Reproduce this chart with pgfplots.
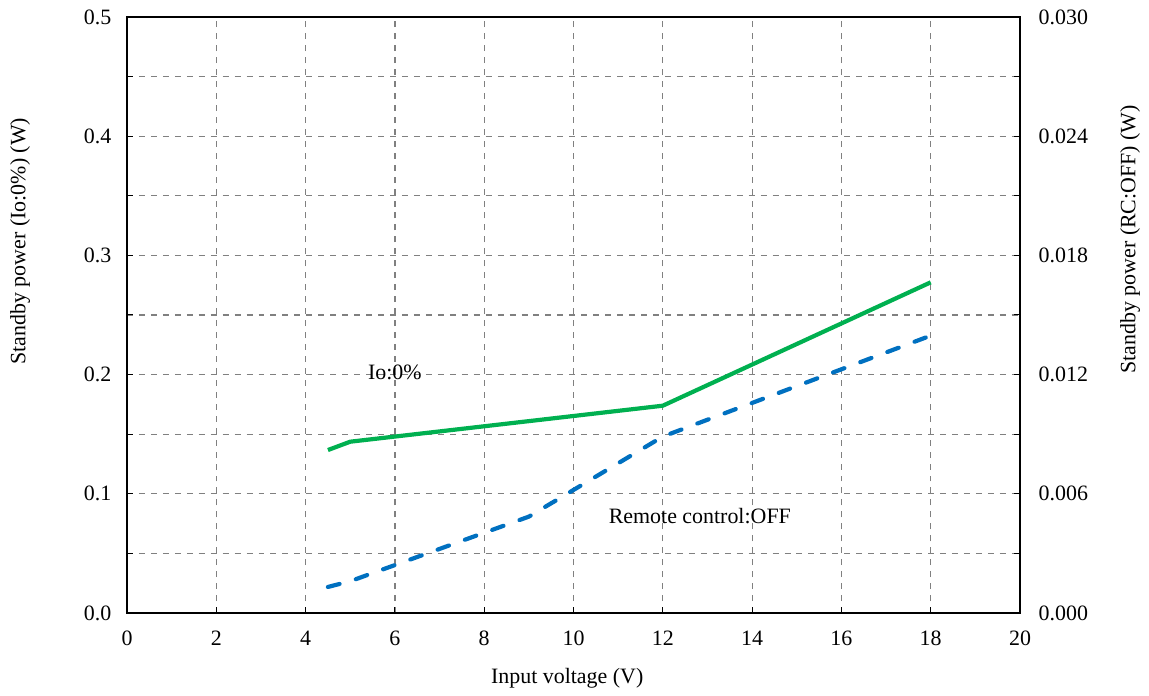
\documentclass[border=0pt]{standalone}
\usepackage{fontspec}
\setmainfont{Liberation Serif}
\usepackage{pgfplots}
\pgfplotsset{compat=1.18}
\definecolor{cgreen}{RGB}{0,176,80}
\definecolor{cblue}{RGB}{0,112,192}
\definecolor{cgrid}{RGB}{128,128,128}
\begin{document}
\fontsize{11pt}{13pt}\selectfont
\begin{tikzpicture}
\pgfplotsset{
  every axis/.append style={
    scale only axis, width=446.5bp, height=298bp,
    xmin=0, xmax=20,
    /pgf/number format/assume math mode=true,
    tick label style={font=\fontsize{11pt}{13pt}\selectfont},
    label style={font=\fontsize{11pt}{13pt}\selectfont},
    axis line style={line width=1.1bp, black},
    tick style={black, line width=0.5bp},
    major tick length=3bp, minor tick length=3bp,
  }
}
\begin{axis}[
  ymin=0, ymax=0.5,
  xtick={0,2,...,20},
  ytick={0,0.1,...,0.5},
  minor ytick={0.05,0.15,...,0.45},
  yticklabel style={/pgf/number format/fixed,/pgf/number format/fixed zerofill,/pgf/number format/precision=1},
  grid=both,
  major grid style={dashed, cgrid, line width=0.6bp},
  minor grid style={dashed, cgrid, line width=0.6bp},
  xtick pos=bottom,
  ytick pos=left,
  tick align=inside,
  xticklabel style={yshift=-5bp},
  yticklabel style={xshift=-4bp},
  xlabel={Input voltage (V)},
  ylabel={Standby power (Io:0\%) (W)},
  xlabel style={at={(rel axis cs:0.493,-0.109)}, anchor=center},
  ylabel style={at={(rel axis cs:-0.1198,0.624)}, anchor=center},
  clip=false,
]
\addplot[cgreen, line width=2.1bp, line join=round] coordinates {
 (4.5,0.1367) (5,0.1437) (12,0.1739) (18,0.2774)
};
\node at (axis cs:6.0,0.202) {Io:0\%};
\node at (axis cs:12.83,0.0814) {Remote control:OFF};
\coordinate (ll) at (rel axis cs:0,0);
\coordinate (ur) at (rel axis cs:1,1);
\end{axis}
\begin{axis}[
  ymin=0, ymax=0.030,
  axis y line*=right,
  axis x line=none,
  ytick={0,0.006,...,0.030},
  minor ytick={0.003,0.009,...,0.027},
  yticklabel style={/pgf/number format/fixed,/pgf/number format/fixed zerofill,/pgf/number format/precision=3, xshift=5.5bp},
  scaled y ticks=false,
  tick align=inside,
  ylabel={Standby power (RC:OFF) (W)},
  ylabel style={at={(rel axis cs:1.1232,0.627)}, anchor=center},
]
\addplot[cblue, line width=2.1bp, dash pattern=on 6bp off 8.5bp, line cap=round] coordinates {
 (4.5,0.00131) (5,0.00160) (9,0.00485) (12,0.00888) (18,0.01396)
};
\end{axis}
\path (ll) +(-63.5bp,-41bp) (ur) +(64.5bp,8.5bp);
\end{tikzpicture}
\end{document}
